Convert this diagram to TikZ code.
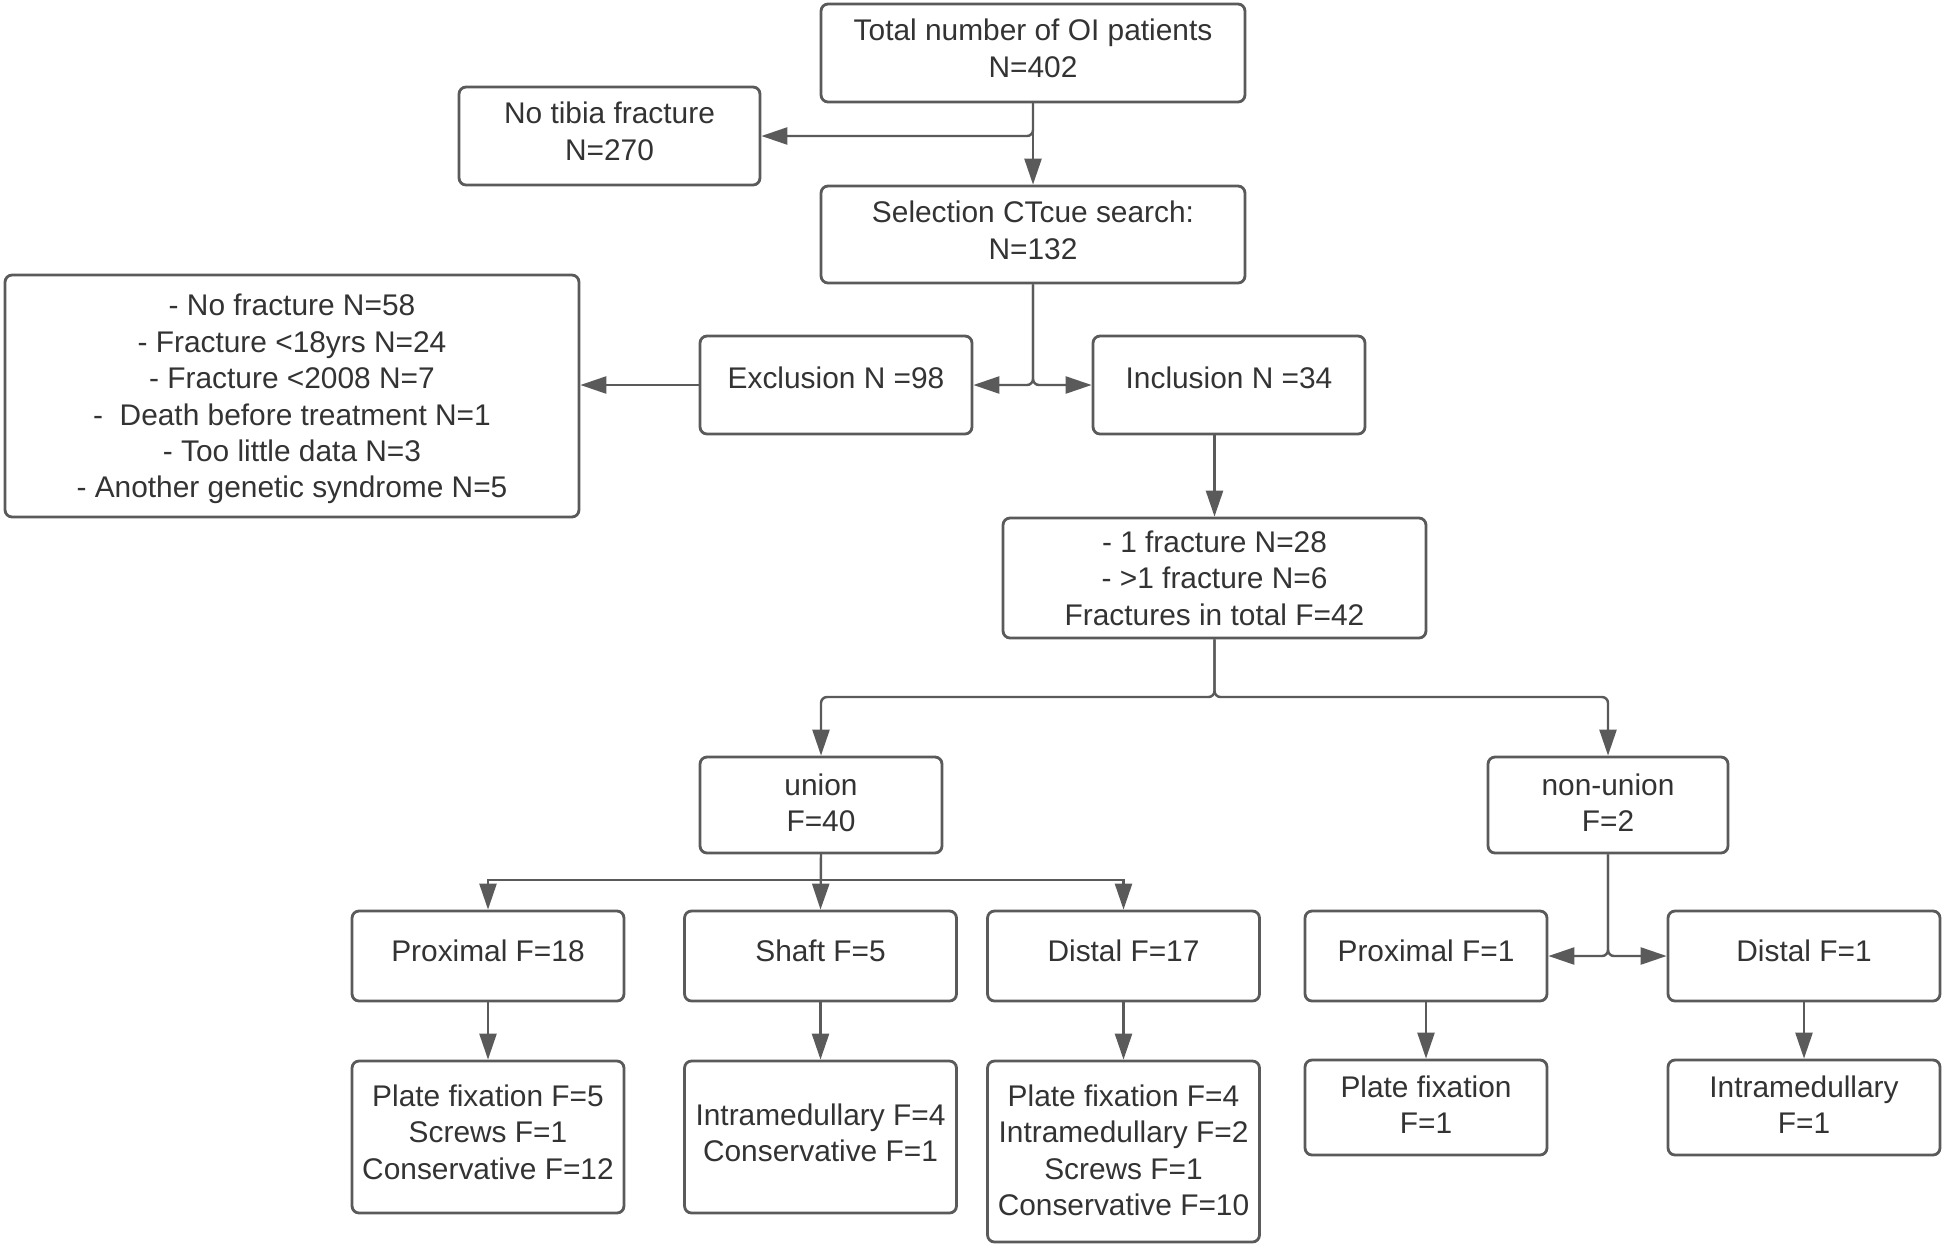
\documentclass[tikz,border=0pt]{standalone}
\usepackage{fontspec}
\setmainfont{Liberation Sans}
\usetikzlibrary{arrows.meta}
\definecolor{linegray}{HTML}{5A5A5A}
\definecolor{textgray}{HTML}{333333}
\tikzset{
	box/.style = {draw = linegray, line width = 1.6pt, rounded corners = 0.14cm, text = textgray, align = center, inner sep = 0pt, text depth = 5.7pt, font = \fontsize{17pt}{20.7pt}\selectfont},
	arr/.style = {draw = linegray, line width = 1.4pt, rounded corners = 0.12cm, -{Triangle[length = 0.52cm, width = 0.34cm]}}
}
\begin{document}
\begin{tikzpicture}[x = 0.02cm, y = -0.02cm]
			\useasboundingbox (0, 0) rectangle (1944, 1248);
			\node[box, minimum width = 8.48cm, minimum height = 1.96cm] (total) at (1033, 53) {Total number of OI patients\\N=402};
			\node[box, minimum width = 6.02cm, minimum height = 1.96cm] (notibia) at (609.5, 136) {No tibia fracture\\N=270};
			\node[box, minimum width = 8.48cm, minimum height = 1.94cm, text depth = 5pt] (sel) at (1033, 234.5) {Selection CTcue search:\\N=132};
			\node[box, minimum width = 11.48cm, minimum height = 4.84cm, text depth = 0pt] (exlist) at (292, 396) {- No fracture N=58\\- Fracture <18yrs N=24\\- Fracture <2008 N=7\\- \ Death before treatment N=1\\- Too little data N=3\\- Another genetic syndrome N=5};
			\node[box, minimum width = 5.44cm, minimum height = 1.96cm, text depth = 8.6pt] (excl) at (836, 385) {Exclusion N =98};
			\node[box, minimum width = 5.44cm, minimum height = 1.96cm, text depth = 8.6pt] (incl) at (1229, 385) {Inclusion N =34};
			\node[box, minimum width = 8.46cm, minimum height = 2.4cm, text depth = 0pt] (fract) at (1214.5, 578) {- 1 fracture N=28\\- >1 fracture N=6\\Fractures in total F=42};
			\node[box, minimum width = 4.84cm, minimum height = 1.92cm, text depth = 2.8pt] (union) at (821, 805) {union\\F=40};
			\node[box, minimum width = 4.8cm, minimum height = 1.92cm, text depth = 2.8pt] (nonunion) at (1608, 805) {non-union\\F=2};
			\node[box, minimum width = 5.44cm, minimum height = 1.8cm] (prox) at (488, 956) {Proximal F=18};
			\node[box, minimum width = 5.44cm, minimum height = 1.8cm] (shaft) at (820.5, 956) {Shaft F=5};
			\node[box, minimum width = 5.44cm, minimum height = 1.8cm] (dist) at (1123.5, 956) {Distal F=17};
			\node[box, minimum width = 4.84cm, minimum height = 1.8cm] (proxone) at (1426, 956) {Proximal F=1};
			\node[box, minimum width = 5.44cm, minimum height = 1.8cm] (distone) at (1804, 956) {Distal F=1};
			\node[box, minimum width = 5.44cm, minimum height = 3.04cm] (proxtreat) at (488, 1137) {Plate fixation F=5\\Screws F=1\\Conservative F=12};
			\node[box, minimum width = 5.44cm, minimum height = 3.04cm, text depth = 5pt] (shafttreat) at (820.5, 1137) {Intramedullary F=4\\Conservative F=1};
			\node[box, minimum width = 5.44cm, minimum height = 3.62cm, text depth = 1.5pt] (disttreat) at (1123.5, 1151.5) {Plate fixation F=4\\Intramedullary F=2\\Screws F=1\\Conservative F=10};
			\node[box, minimum width = 4.84cm, minimum height = 1.9cm, text depth = 3.5pt] (proxonetreat) at (1426, 1107.5) {Plate fixation\\F=1};
			\node[box, minimum width = 5.44cm, minimum height = 1.9cm, text depth = 3.5pt] (distonetreat) at (1804, 1107.5) {Intramedullary\\F=1};
			\coordinate (fsplit) at (1214.5, 697);
			\coordinate (usplit) at (821, 880);
			\draw[arr] (total.south) -- (sel.north);
			\draw[arr] (total.south) |- (notibia.east);
			\draw[arr] (sel.south) |- (excl.east);
			\draw[arr] (sel.south) |- (incl.west);
			\draw[arr] (excl.west) -- (excl.west -| exlist.east);
			\draw[arr] (incl.south -| fract.north) -- (fract.north);
			\draw[arr] (fract.south) -- (fsplit) -| (union.north);
			\draw[arr] (fract.south) -- (fsplit) -| (nonunion.north);
			\draw[arr, sharp corners] (union.south) -- (usplit) -| (prox.north);
			\draw[arr] (union.south) -- (shaft.north);
			\draw[arr, sharp corners] (union.south) -- (usplit) -| (dist.north);
			\draw[arr] (nonunion.south) |- (proxone.east);
			\draw[arr] (nonunion.south) |- (distone.west);
			\draw[arr] (prox.south) -- (proxtreat.north);
			\draw[arr] (shaft.south) -- (shafttreat.north);
			\draw[arr] (dist.south) -- (disttreat.north);
			\draw[arr] (proxone.south) -- (proxonetreat.north);
			\draw[arr] (distone.south) -- (distonetreat.north);
		\end{tikzpicture}
\end{document}
